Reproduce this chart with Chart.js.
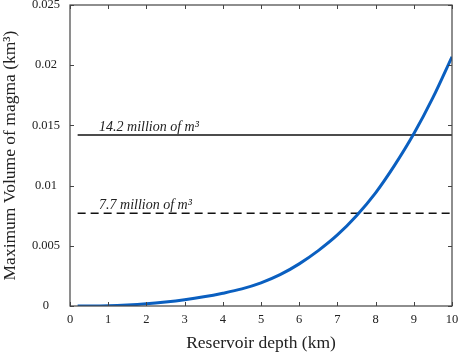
<!DOCTYPE html>
<html>
<head>
<meta charset="utf-8">
<script src="https://cdn.jsdelivr.net/npm/chart.js@4.4.1/dist/chart.umd.min.js"></script>
<style>
  html, body { margin: 0; padding: 0; background: #fff; }
  #wrap { width: 461px; height: 354px; }
</style>
</head>
<body>
<div id="wrap"><canvas id="chart" width="461" height="354"></canvas></div>
<script>
// Maximum magma volume vs reservoir depth

const depth = [0.2, 1, 1.5, 2, 2.5, 3, 3.5, 4, 4.5, 5, 5.5, 6, 6.5, 7, 7.5, 8, 8.5, 9, 9.5, 10];
const volume = [0, 0.00002, 0.00008, 0.00018, 0.00033, 0.00052, 0.00076, 0.00106, 0.00142, 0.00192,
                0.0026, 0.0035, 0.0046, 0.0059, 0.0075, 0.0094, 0.0117, 0.0143, 0.0173, 0.0207];

const refLines = [
  { label: '14.2 million of m³', value: 0.0142, dash: [] },
  { label: '7.7 million of m³', value: 0.0077, dash: [8, 5] }
];
const refStart = 0.2;
const refEnd = 10;
const labelAt = 0.76;

const xTicks = [0, 1, 2, 3, 4, 5, 6, 7, 8, 9, 10];
const yTicks = [0, 0.005, 0.01, 0.015, 0.02, 0.025];

const serif = '"Liberation Serif", "DejaVu Serif", serif';

const datasets = [
  {
    data: depth.map((d, i) => ({ x: d, y: volume[i] })),
    borderColor: '#0a5fc0',
    borderWidth: 3,
    pointRadius: 0,
    cubicInterpolationMode: 'monotone'
  }
];
refLines.forEach(r => {
  datasets.push({
    data: [{ x: refStart, y: r.value }, { x: refEnd, y: r.value }],
    borderColor: '#111',
    borderWidth: 1.4,
    borderDash: r.dash,
    pointRadius: 0
  });
});

// frame with inward ticks on all four sides, plus line labels
const framePlugin = {
  id: 'frame',
  afterDatasetsDraw(chart) {
    const { ctx, chartArea: a, scales } = chart;
    const xs = scales.x, ys = scales.y;
    ctx.save();
    ctx.strokeStyle = '#444';
    ctx.lineWidth = 1.2;
    ctx.strokeRect(a.left, a.top, a.right - a.left, a.bottom - a.top);
    ctx.lineWidth = 1;
    ctx.beginPath();
    xTicks.forEach(v => {
      const px = Math.round(xs.getPixelForValue(v)) + 0.5;
      ctx.moveTo(px, a.bottom); ctx.lineTo(px, a.bottom - 4);
      ctx.moveTo(px, a.top); ctx.lineTo(px, a.top + 4);
    });
    yTicks.forEach(v => {
      const py = Math.round(ys.getPixelForValue(v)) + 0.5;
      ctx.moveTo(a.left, py); ctx.lineTo(a.left + 4, py);
      ctx.moveTo(a.right, py); ctx.lineTo(a.right - 4, py);
    });
    ctx.stroke();

    ctx.fillStyle = '#222';
    ctx.font = 'italic 14px ' + serif;
    ctx.textAlign = 'left';
    ctx.textBaseline = 'alphabetic';
    refLines.forEach(r => {
      ctx.fillText(r.label, xs.getPixelForValue(labelAt), ys.getPixelForValue(r.value) - 4);
    });
    ctx.restore();
  }
};

new Chart(document.getElementById('chart'), {
  type: 'line',
  data: { datasets },
  options: {
    responsive: false,
    animation: false,
    layout: { padding: { left: 0, right: 9, top: 5, bottom: 0 } },
    plugins: { legend: { display: false }, tooltip: { enabled: false } },
    scales: {
      x: {
        type: 'linear',
        min: 0,
        max: 10,
        afterBuildTicks: s => { s.ticks = xTicks.map(v => ({ value: v })); },
        afterFit: s => { s.height = 48; s.paddingLeft = 0; s.paddingRight = 0; },
        grid: { display: false, drawTicks: false },
        border: { display: false },
        ticks: { color: '#222', padding: 6, maxRotation: 0, font: { family: serif, size: 12.5 } },
        title: { display: true, text: 'Reservoir depth (km)', color: '#222', padding: { top: 1, bottom: 0 }, font: { family: serif, size: 17.5 } }
      },
      y: {
        type: 'linear',
        min: 0,
        max: 0.025,
        afterBuildTicks: s => { s.ticks = yTicks.map(v => ({ value: v })); },
        afterFit: s => { s.width = 70; s.paddingTop = 0; s.paddingBottom = 0; },
        grid: { display: false, drawTicks: false },
        border: { display: false },
        ticks: {
          color: '#222',
          padding: 10,
          crossAlign: 'center',
          font: { family: serif, size: 12.5 },
          callback: v => String(v)
        },
        title: { display: true, text: 'Maximum Volume of magma (km³)', color: '#222', padding: { top: 0, bottom: 0 }, font: { family: serif, size: 17.5 } }
      }
    }
  },
  plugins: [framePlugin]
});
</script>
</body>
</html>
